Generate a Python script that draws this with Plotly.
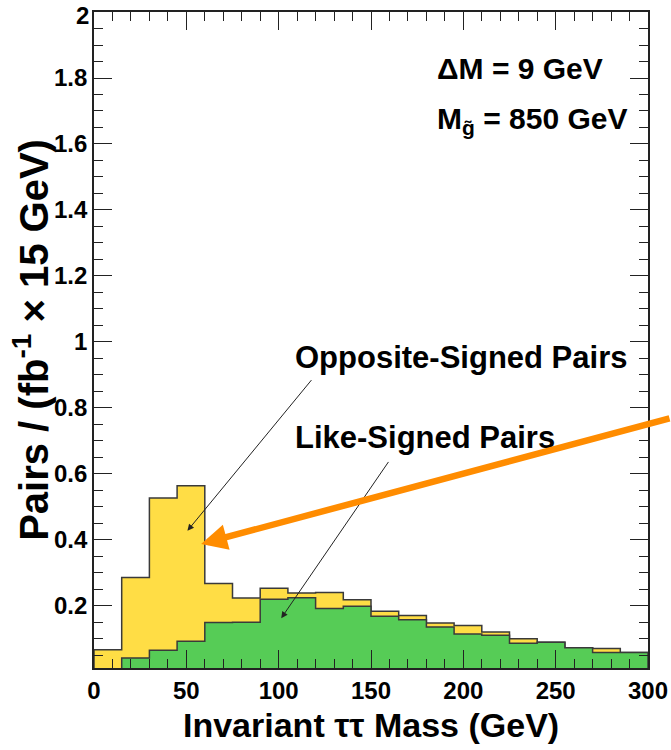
import plotly.graph_objects as go

# ---- data ----
bin_lower_edges = [0, 15, 30, 45, 60, 75, 90, 105, 120, 135,
                   150, 165, 180, 195, 210, 225, 240, 255, 270, 285]
bin_width = 15
opposite_signed = [0.067, 0.286, 0.527, 0.564, 0.268, 0.224, 0.254, 0.239, 0.241, 0.219,
                   0.184, 0.171, 0.148, 0.141, 0.121, 0.101, 0.090, 0.073, 0.071, 0.059]
like_signed = [0.0, 0.042, 0.066, 0.093, 0.150, 0.151, 0.220, 0.225, 0.192, 0.199,
               0.169, 0.158, 0.136, 0.115, 0.111, 0.087, 0.090, 0.073, 0.059, 0.059]
y_tick_vals = [0.2, 0.4, 0.6, 0.8, 1.0, 1.2, 1.4, 1.6, 1.8, 2.0]
y_tick_text = ["0.2", "0.4", "0.6", "0.8", "1", "1.2", "1.4", "1.6", "1.8", "2"]
x_tick_vals = [0, 50, 100, 150, 200, 250, 300]
x_tick_text = ["0", "50", "100", "150", "200", "250", "300"]

YELLOW = "#FFDD45"
GREEN = "#56CC56"
EDGE = "#3a3a3a"
FONT = "Liberation Sans"
TICKFONT = dict(family=FONT, size=24, color="black", weight="bold")


def step_xy(lower, width, vals):
    xs = [lower[0]] + list(lower) + [lower[-1] + width, lower[-1] + width]
    ys = [0] + list(vals) + [vals[-1], 0]
    return xs, ys


fig = go.Figure()
for vals, col in [(opposite_signed, YELLOW), (like_signed, GREEN)]:
    xs, ys = step_xy(bin_lower_edges, bin_width, vals)
    fig.add_trace(go.Scatter(x=xs, y=ys, mode="lines", line_shape="hv",
                             line=dict(color=EDGE, width=1.5),
                             fill="tozeroy", fillcolor=col, hoverinfo="skip",
                             showlegend=False))

axis_common = dict(showgrid=False, zeroline=False, showline=True, linecolor="#222",
                   linewidth=1.6, mirror="ticks", ticks="inside", tickcolor="#222",
                   tickwidth=1.3, ticklen=18, automargin=False,
                   ticklabeloverflow="allow", tickfont=TICKFONT)

fig.update_xaxes(range=[0, 300], tickvals=x_tick_vals, ticktext=x_tick_text,
                 minor=dict(dtick=10, ticklen=9, ticks="inside", tickcolor="#222", tickwidth=1.3),
                 **axis_common)
# the top label ("2") is drawn as an annotation, nudged down like in the reference
fig.update_yaxes(range=[0.012, 2], tickvals=y_tick_vals,
                 ticktext=y_tick_text[:-1] + [""],
                 minor=dict(dtick=0.05, tick0=0, ticklen=9, ticks="inside", tickcolor="#222", tickwidth=1.3),
                 **axis_common)

txt = dict(family=FONT, size=31, color="black", weight="bold")
annotations = [
    dict(x=0, y=y_tick_vals[-1], xref="paper", yref="y", text=y_tick_text[-1],
         showarrow=False, xanchor="right", yanchor="middle", xshift=-3, yshift=-3,
         font=TICKFONT),
    # axis titles
    dict(x=0.5, y=-0.087, xref="paper", yref="paper", text="Invariant ττ Mass (GeV)",
         showarrow=False, xanchor="center", yanchor="middle",
         font=dict(family=FONT, size=34, color="black", weight="bold")),
    dict(x=-0.114, y=0.5, xref="paper", yref="paper", text="Pairs / (fb<sup>-1</sup> × 15 GeV)",
         showarrow=False, xanchor="center", yanchor="middle", textangle=-90,
         font=dict(family=FONT, size=40, color="black", weight="bold")),
    # labels
    dict(x=107.5, y=0.953, xref="x", yref="y", text="Opposite-Signed Pairs",
         showarrow=False, xanchor="left", yanchor="middle", font=txt),
    dict(x=107.5, y=0.710, xref="x", yref="y", text="Like-Signed Pairs",
         showarrow=False, xanchor="left", yanchor="middle", font=txt),
    dict(x=184.5, y=1.83, xref="x", yref="y", text="ΔM = 9 GeV",
         showarrow=False, xanchor="left", yanchor="middle", font=dict(txt, size=30)),
    dict(x=184.5, y=1.67, xref="x", yref="y", text="M<sub>g̃</sub> = 850 GeV",
         showarrow=False, xanchor="left", yanchor="middle", font=dict(txt, size=30)),
    # thin black arrows
    dict(x=50.6, y=0.428, ax=118.4, ay=0.889, xref="x", yref="y", axref="x", ayref="y",
         showarrow=True, arrowhead=2, arrowsize=1.3, arrowwidth=1, arrowcolor="#222", text=""),
    dict(x=101.4, y=0.163, ax=160.0, ay=0.641, xref="x", yref="y", axref="x", ayref="y",
         showarrow=True, arrowhead=2, arrowsize=1.3, arrowwidth=1, arrowcolor="#222", text=""),
    # orange arrow
    dict(x=58.0, y=0.388, ax=480, ay=-126, xref="x", yref="y",
         showarrow=True, arrowhead=2, arrowsize=0.8, arrowwidth=6.5, arrowcolor="#FF8C00", text=""),
]

fig.update_layout(width=671, height=750, plot_bgcolor="white", paper_bgcolor="white",
                  margin=dict(l=94, r=23, t=12, b=82), annotations=annotations,
                  showlegend=False)

# remove the default page margin so the 671x750 figure fills the window exactly
fig.write_html("out.html", config={"displayModeBar": False},
               post_script="document.body.style.margin='0';document.body.style.overflow='hidden';")
